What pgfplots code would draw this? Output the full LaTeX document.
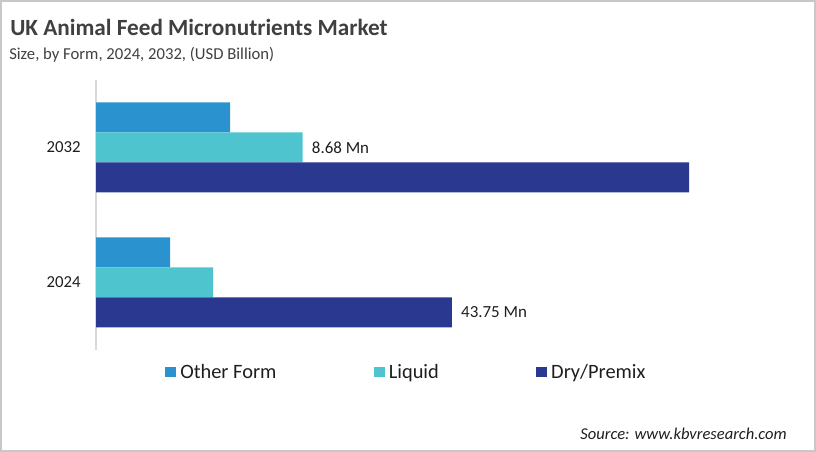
\documentclass[border=0pt]{standalone}
\usepackage{fontspec}
\setmainfont{Carlito}
\usepackage{pgfplots}
\pgfplotsset{compat=1.18}

\definecolor{otherc}{RGB}{43,146,208}
\definecolor{liquidc}{RGB}{78,196,207}
\definecolor{dryc}{RGB}{42,56,143}
\definecolor{titlec}{RGB}{64,64,64}
\definecolor{textc}{RGB}{30,30,30}
\definecolor{framec}{RGB}{200,200,200}
\definecolor{axisc}{RGB}{217,217,217}

\begin{document}
\begin{tikzpicture}
% 1 px of the reference = 0.75pt
\useasboundingbox (0,0) rectangle (612pt,339pt);
\draw[framec, line width=1.2pt] (0.6pt,0.6pt) rectangle (611.4pt,338.4pt);

\node[anchor=base west, inner sep=0pt, text=titlec, font=\fontsize{17.4}{20}\selectfont\bfseries]
  at (7.5pt,312pt) {UK Animal Feed Micronutrients Market};
\node[anchor=base west, inner sep=0pt, text=titlec, font=\fontsize{12.5}{15}\selectfont]
  at (6.75pt,294pt) {Size, by Form, 2024, 2032, (USD Billion)};
\node[anchor=base east, inner sep=0pt, text=textc, font=\fontsize{12.4}{15}\selectfont\itshape]
  at (590.25pt,9pt) {Source: www.kbvresearch.com};

\begin{axis}[
at={(72pt,76.5pt)}, anchor=south west,
width=468pt, height=202.5pt, scale only axis,
xmin=0, xmax=76.7,
ymin=-0.5, ymax=1.5,
xbar, bar width=22.5pt, bar shift=0pt,
axis x line=none,
axis y line*=left,
axis line style={axisc, line width=0.8pt, -},
ytick={0,1},
yticklabels={2024,2032},
major tick length=0pt,
yticklabel style={font=\fontsize{12.6}{15}\selectfont, text=textc, xshift=-8pt},
/pgf/number format/assume math mode=true,
legend columns=3,
legend style={at={(0.1106,-0.0815)}, anchor=west, draw=none, fill=none,
  inner sep=0pt, font=\fontsize{15.3}{17}\selectfont, text=textc,
  nodes={inner sep=0pt},
  /tikz/every odd column/.append style={column sep=3pt},
  /tikz/every even column/.append style={column sep=73pt}},
legend image code/.code={\fill[#1] (0pt,-4.1pt) rectangle (8.25pt,4.1pt);},
]
\addplot[draw=none, fill=otherc] coordinates {(9.1,0.2222) (16.5,1.2222)};
\addlegendentry{Other Form}
\addplot[draw=none, fill=liquidc] coordinates {(14.4,0) (25.4,1)};
\addlegendentry{Liquid}
\addplot[draw=none, fill=dryc] coordinates {(43.75,-0.2222) (72.9,0.7778)};
\addlegendentry{Dry/Premix}

\node[anchor=west, inner sep=0pt, xshift=6.75pt, text=textc, font=\fontsize{12.7}{15}\selectfont]
  at (axis cs:25.4,1) {8.68 Mn};
\node[anchor=west, inner sep=0pt, xshift=6.75pt, text=textc, font=\fontsize{12.7}{15}\selectfont]
  at (axis cs:43.75,-0.2222) {43.75 Mn};
\end{axis}
\end{tikzpicture}
\end{document}
